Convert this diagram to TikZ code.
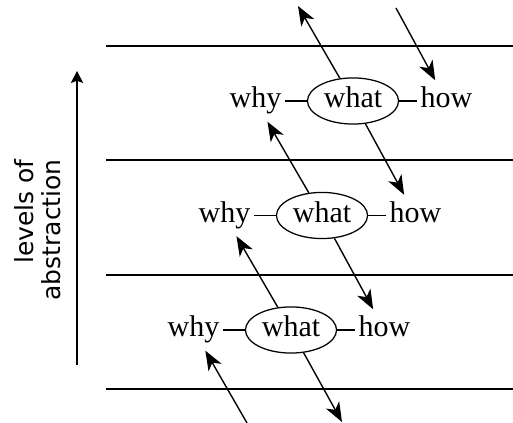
\documentclass[tikz,border=0pt]{standalone}
\usepackage{fontspec}
\setmainfont{Liberation Serif}
\newfontfamily\axisfont{DejaVu Sans}
\usetikzlibrary{calc, arrows.meta, positioning, shapes.geometric}

\begin{document}
\begin{tikzpicture}[x=0.36pt, y=0.36pt,
        rule/.style={line width=0.7pt},
        arr/.style={-{Stealth[length=7pt, width=5.4pt, inset=2pt]}, line width=0.5pt},
        word/.style={font=\fontsize{10.8}{12}\selectfont, text height=7.2pt, text depth=2.3pt},
        whatnode/.style={word, ellipse, draw, line width=0.45pt, inner sep=0pt,
            minimum width=32.8pt, minimum height=16.6pt},
        side/.style={word, inner xsep=1pt, inner ysep=2.5pt}]
    \useasboundingbox (0,0) rectangle (513,423);

    \foreach \y in {34, 148, 263, 377}
        \draw[rule] (106,\y) -- (513,\y);

    \foreach \i in {1,2,3} {
        \pgfmathsetmacro{\x}{353-31*(\i-1)}
        \pgfmathsetmacro{\y}{322-114.5*(\i-1)}
        \node[whatnode] (what\i) at (\x,\y) {what};
        \node[side, left=8pt of what\i] (why\i) {why};
        \node[side, right=6.5pt of what\i] (how\i) {how};
        \draw[rule] (why\i) -- (what\i);
        \draw[rule] (what\i) -- (how\i);
    }

    \foreach \i in {1,2} {
        \pgfmathtruncatemacro{\j}{\i+1}
        \draw[arr] (what\j) -- (why\i);
        \draw[arr] (what\i) -- (how\j);
    }

    \coordinate (top-out) at (298,417);
    \coordinate (top-in) at (396,415);
    \coordinate (bottom-in) at (247,0);
    \coordinate (bottom-out) at (342,1);
    \draw[arr] (what1) -- (top-out);
    \draw[arr] (top-in) -- (how1);
    \draw[arr] (bottom-in) -- (why3);
    \draw[arr] (what3) -- (bottom-out);

    \coordinate (axis-bottom) at (77,58);
    \coordinate (axis-top) at (77,352);
    \draw[rule, -{Stealth[length=4.3pt, width=4.4pt, inset=0.8pt]}] (axis-bottom) -- (axis-top);
    \node[rotate=90, align=right, font=\axisfont\fontsize{9}{9.7}\selectfont]
        (levels) at (38,193) {levels of\\abstraction};
\end{tikzpicture}
\end{document}
